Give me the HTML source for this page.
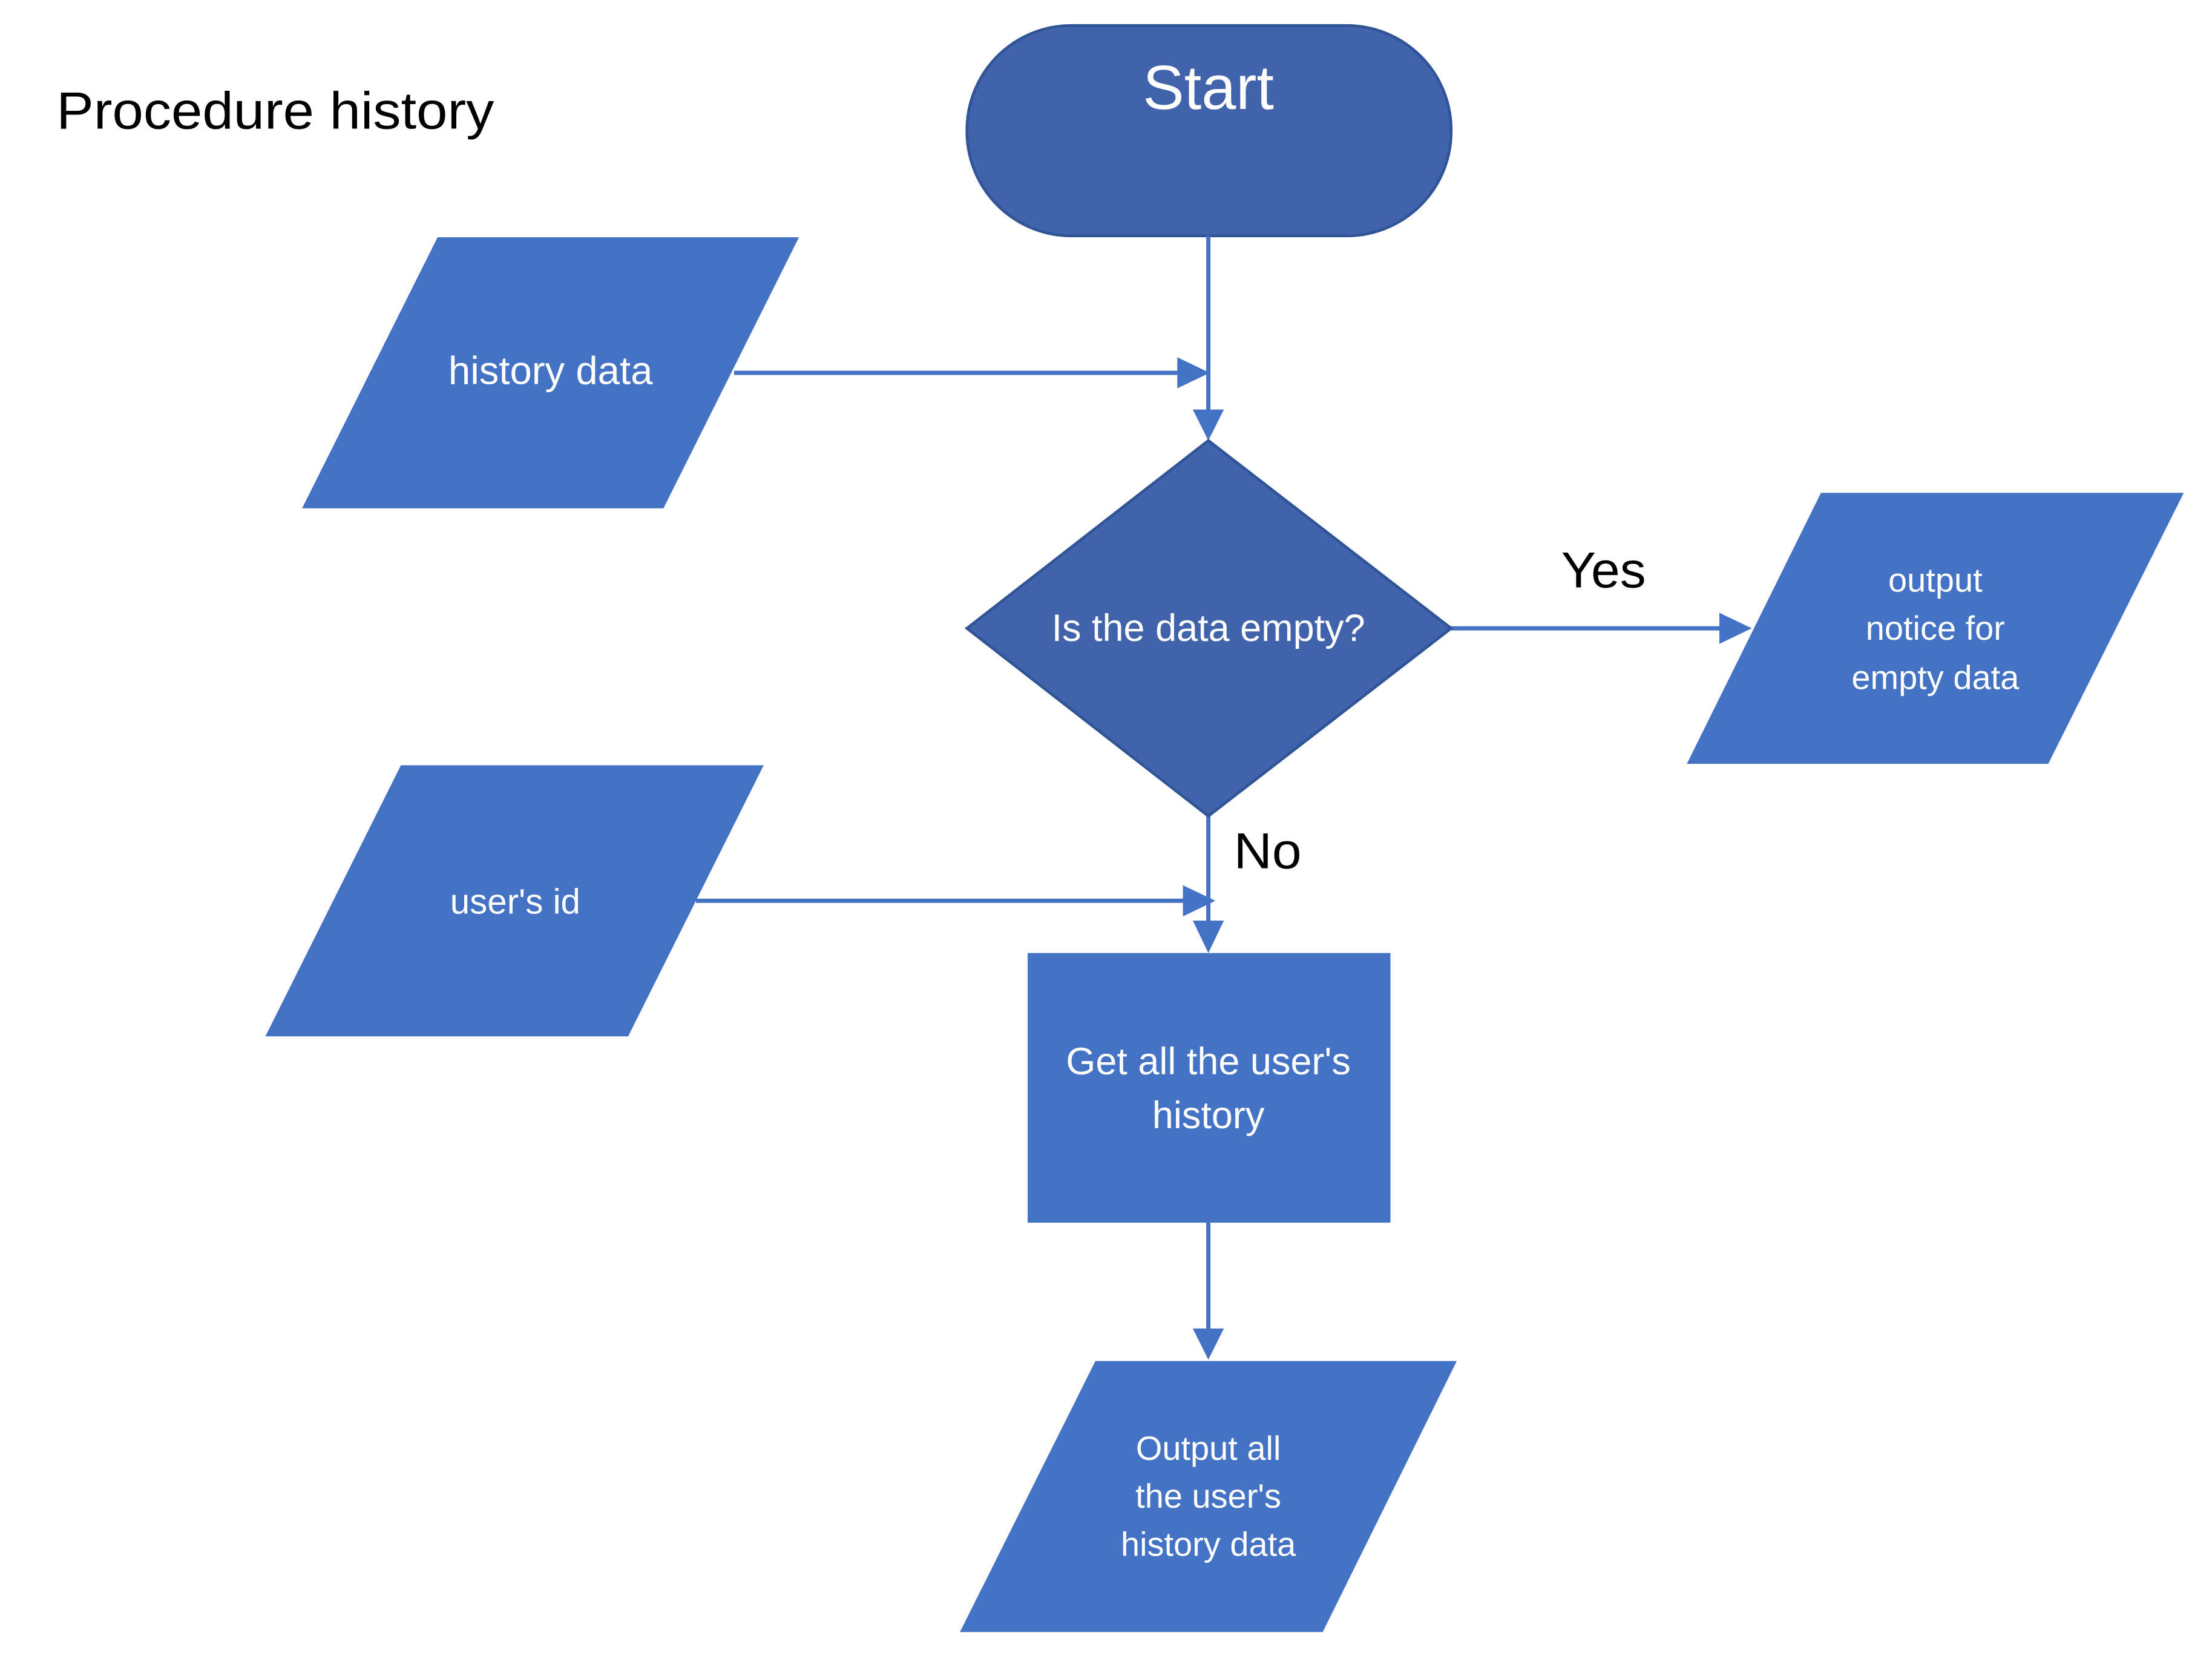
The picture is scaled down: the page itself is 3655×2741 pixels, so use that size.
<!DOCTYPE html>
<html><head><meta charset="utf-8"><style>
html,body{margin:0;padding:0;background:#fff;}
svg{display:block;}
text{font-family:"Liberation Sans",sans-serif;}
</style></head><body>
<svg width="3655" height="2741" viewBox="0 0 1567 1175" xmlns="http://www.w3.org/2000/svg">
<rect width="1567" height="1175" fill="#fff"/>
<text x="40" y="91" font-size="37" fill="#000" textLength="310" lengthAdjust="spacingAndGlyphs">Procedure history</text>

<rect x="685" y="18" width="343" height="149" rx="74" ry="74" fill="#4063AC" stroke="#2F5597" stroke-width="2"/>
<text x="856" y="77" font-size="44" fill="#fff" text-anchor="middle">Start</text>

<polygon points="310,168 566,168 470,360 214,360" fill="#4472C4"/>
<text x="390" y="272" font-size="28" fill="#fff" text-anchor="middle">history data</text>

<g stroke="#4472C4" stroke-width="3" fill="none">
<line x1="520" y1="264" x2="836" y2="264"/>
<line x1="856" y1="167" x2="856" y2="292"/>
<line x1="1028" y1="445" x2="1220" y2="445"/>
<line x1="856" y1="578" x2="856" y2="652"/>
<line x1="493" y1="638" x2="840" y2="638"/>
<line x1="856" y1="866" x2="856" y2="942"/>
</g>
<g fill="#4472C4">
<polygon points="834,253 834,275 857,264"/>
<polygon points="845,290 867,290 856,312"/>
<polygon points="1218,434 1218,456 1241,445"/>
<polygon points="845,652 867,652 856,675"/>
<polygon points="838,627 838,649 861,638"/>
<polygon points="845,941 867,941 856,963"/>
</g>

<polygon points="856,312 1028,445 856,578 685,445" fill="#4063AC" stroke="#2F5597" stroke-width="2"/>
<text x="856" y="454" font-size="27" fill="#fff" text-anchor="middle">Is the data empty?</text>

<text x="1136" y="416" font-size="36" fill="#000" text-anchor="middle" textLength="60" lengthAdjust="spacingAndGlyphs">Yes</text>
<polygon points="1290,349 1547,349 1451,541 1195,541" fill="#4472C4"/>
<g font-size="24" fill="#fff" text-anchor="middle">
<text x="1371" y="419">output</text>
<text x="1371" y="453">notice for</text>
<text x="1371" y="488">empty data</text>
</g>

<text x="898" y="615" font-size="36" fill="#000" text-anchor="middle" textLength="48" lengthAdjust="spacingAndGlyphs">No</text>

<polygon points="284,542 541,542 445,734 188,734" fill="#4472C4"/>
<text x="365" y="647" font-size="25" fill="#fff" text-anchor="middle">user's id</text>

<rect x="728" y="675" width="257" height="191" fill="#4472C4"/>
<text x="856" y="761" font-size="27" fill="#fff" text-anchor="middle">Get all the user's</text>
<text x="856" y="799" font-size="27" fill="#fff" text-anchor="middle">history</text>

<polygon points="776,964 1032,964 937,1156 680,1156" fill="#4472C4"/>
<g font-size="24" fill="#fff" text-anchor="middle">
<text x="856" y="1034">Output all</text>
<text x="856" y="1068">the user's</text>
<text x="856" y="1102">history data</text>
</g>
</svg>
</body></html>
